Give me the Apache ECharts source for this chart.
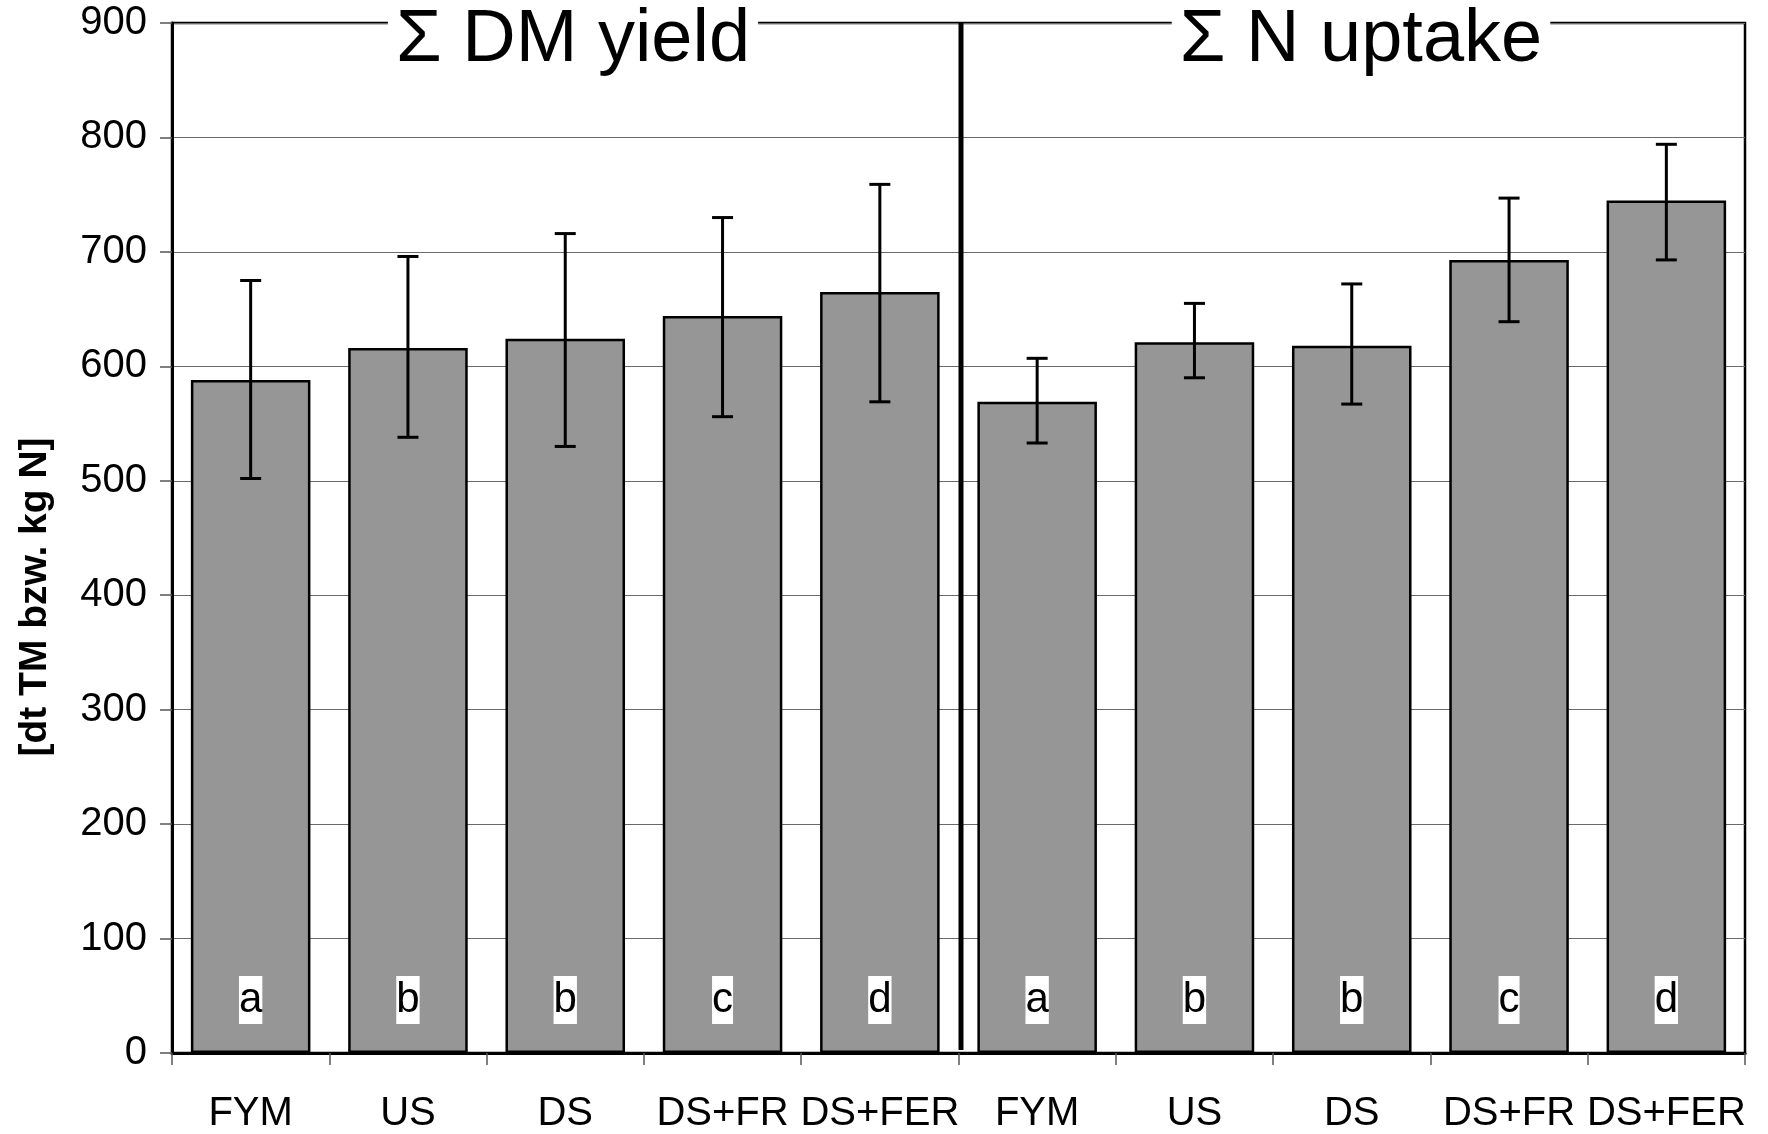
<!DOCTYPE html>
<html>
<head>
<meta charset="utf-8">
<script src="https://cdn.jsdelivr.net/npm/echarts@6/dist/echarts.min.js"></script>
<style>
  html, body { margin: 0; padding: 0; background: #fff; }
  #chart { width: 1768px; height: 1134px; }
</style>
</head>
<body>
<div id="chart"></div>
<script>
// Treatments, shown twice: once for dry-matter yield, once for N uptake
const categories = ['FYM', 'US', 'DS', 'DS+FR', 'DS+FER', 'FYM', 'US', 'DS', 'DS+FR', 'DS+FER'];

// Σ DM yield [dt TM]
const dmYield = [588, 616, 624, 644, 665];
const dmLow   = [502, 538, 530, 556, 569];
const dmHigh  = [675, 696, 716, 730, 759];

// Σ N uptake [kg N]
const nUptake = [569, 621, 618, 693, 745];
const nLow    = [533, 590, 567, 639, 693];
const nHigh   = [607, 655, 672, 747, 794];

// Significance groups
const groupLetters = ['a', 'b', 'b', 'c', 'd', 'a', 'b', 'b', 'c', 'd'];

// Value axis
const yMin = 0, yMax = 900, yStep = 100;

const panelTitles = ['\u03A3 DM yield', '\u03A3 N uptake'];
const yAxisTitle = '[dt TM bzw. kg N]';
const panelSize = dmYield.length;

const means = dmYield.concat(nUptake);
const lows = dmLow.concat(nLow);
const highs = dmHigh.concat(nHigh);
const errorData = means.map((m, i) => [i, lows[i], highs[i]]);

const FONT = '"Liberation Sans", Arial, Helvetica, sans-serif';

const chart = echarts.init(document.getElementById('chart'), null, { renderer: 'canvas' });

chart.setOption({
  backgroundColor: '#fff',
  animation: false,
  grid: {
    left: 172, right: 23, top: 23, bottom: 79,
    show: true, borderColor: '#000', borderWidth: 2.5, backgroundColor: 'transparent'
  },
  xAxis: {
    type: 'category',
    data: categories,
    boundaryGap: true,
    axisLine: { lineStyle: { color: '#000', width: 3 } },
    axisTick: { show: true, length: 12, lineStyle: { color: '#555', width: 1.5 } },
    axisLabel: { color: '#000', fontSize: 40, fontFamily: FONT, margin: 41, interval: 0 },
    splitLine: { show: false }
  },
  yAxis: {
    type: 'value',
    min: yMin, max: yMax, interval: yStep,
    axisLine: { show: true, lineStyle: { color: '#000', width: 3 } },
    axisTick: { show: true, length: 12, lineStyle: { color: '#555', width: 1.5 } },
    axisLabel: { color: '#000', fontSize: 40, fontFamily: FONT, margin: 25 },
    splitLine: { show: true, lineStyle: { color: '#6a6a6a', width: 1.2 } }
  },
  series: [
    {
      type: 'bar',
      data: means,
      barWidth: '76%',
      itemStyle: { color: '#969696', borderColor: '#000', borderWidth: 2.5 },
      label: {
        show: true,
        position: 'insideBottom',
        distance: 29,
        formatter: p => groupLetters[p.dataIndex],
        color: '#000',
        fontSize: 42,
        fontFamily: FONT,
        lineHeight: 48,
        backgroundColor: '#fff',
        padding: 0
      },
      z: 2
    },
    {
      // error bars
      type: 'custom',
      data: errorData,
      encode: { x: 0, y: [1, 2] },
      renderItem: function (params, api) {
        const x = api.value(0);
        const lo = api.coord([x, api.value(1)]);
        const hi = api.coord([x, api.value(2)]);
        const cap = 10.5;
        const st = { stroke: '#000', lineWidth: 3 };
        return {
          type: 'group',
          children: [
            { type: 'line', shape: { x1: hi[0], y1: hi[1], x2: lo[0], y2: lo[1] }, style: st },
            { type: 'line', shape: { x1: hi[0] - cap, y1: hi[1], x2: hi[0] + cap, y2: hi[1] }, style: st },
            { type: 'line', shape: { x1: lo[0] - cap, y1: lo[1], x2: lo[0] + cap, y2: lo[1] }, style: st }
          ]
        };
      },
      z: 4
    },
    {
      // thick separator between the two panels
      type: 'custom',
      data: [[panelSize - 1, yMin, yMax]],
      encode: { x: 0, y: [1, 2] },
      renderItem: function (params, api) {
        const c = api.value(0);
        const band = api.size([1, 0])[0];
        const bottom = api.coord([c, api.value(1)]);
        const top = api.coord([c, api.value(2)]);
        const x = bottom[0] + band / 2 + 2.5;
        return {
          type: 'line',
          shape: { x1: x, y1: top[1], x2: x, y2: bottom[1] - 3 },
          style: { stroke: '#000', lineWidth: 5 }
        };
      },
      z: 5
    }
  ],
  graphic: [
    {
      type: 'text', x: 573, y: 41, z: 100,
      style: {
        text: panelTitles[0], fontSize: 74, fontFamily: FONT, fill: '#000',
        align: 'center', verticalAlign: 'middle',
        backgroundColor: '#fff', padding: [0, 8], lineHeight: 80
      }
    },
    {
      type: 'text', x: 1361, y: 41, z: 100,
      style: {
        text: panelTitles[1], fontSize: 74, fontFamily: FONT, fill: '#000',
        align: 'center', verticalAlign: 'middle',
        backgroundColor: '#fff', padding: [0, 8], lineHeight: 80
      }
    },
    {
      type: 'text', x: 35, y: 597, rotation: Math.PI / 2, z: 100,
      style: {
        text: yAxisTitle, fontSize: 39, fontWeight: 'bold', fontFamily: FONT, fill: '#000',
        align: 'center', verticalAlign: 'middle'
      }
    }
  ]
});
</script>
</body>
</html>
